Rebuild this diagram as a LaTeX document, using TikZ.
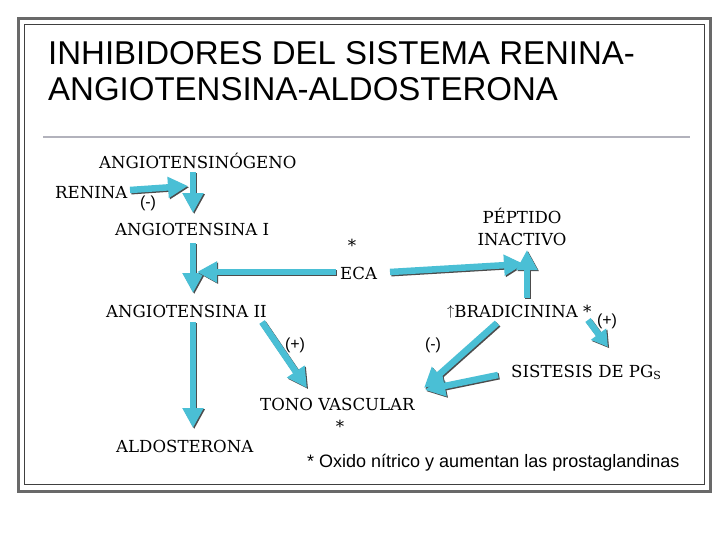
\documentclass[tikz,border=0pt]{standalone}
\usepackage{fontspec}
\setmainfont{DejaVu Serif}
\setsansfont{Liberation Sans}
\usetikzlibrary{arrows.meta,calc}
\definecolor{arrowc}{RGB}{74,191,213}
\definecolor{framec}{RGB}{105,105,105}
\definecolor{rulec}{RGB}{178,178,188}
\begin{document}
\begin{tikzpicture}[x=1pt,y=-1pt,
  lbl/.style={inner sep=0pt, anchor=base west, font=\fontsize{16.6}{19}\selectfont},
  lblc/.style={inner sep=0pt, anchor=base, font=\fontsize{16.6}{19}\selectfont},
  sml/.style={inner sep=0pt, font=\sffamily\fontsize{16}{18}\selectfont},
  ttl/.style={inner sep=0pt, anchor=base west, font=\sffamily\fontsize{33}{36}\selectfont},
  fat/.style={line width=6.5pt, arrowc, -{Triangle[length=20pt,width=20pt]}},
  fatsh/.style={line width=6.5pt, black!70, -{Triangle[length=20pt,width=20pt]},
    transform canvas={shift={(1.2pt,-1.2pt)}}}]
\useasboundingbox (0,0) rectangle (728,546);
\fill[white] (0,0) rectangle (728,546);
% frame
\draw[framec, line width=3pt] (18,18) rectangle (710,491);
\draw[black!75, line width=0.9pt] (24,24) rectangle (704,484);
% title
\node[ttl] (t1) at (48,64) {INHIBIDORES DEL SISTEMA RENINA-};
\node[ttl] (t2) at (48,100) {ANGIOTENSINA-ALDOSTERONA};
\draw[rulec, line width=2pt] (43,137) -- (690,137);
% labels
\node[lbl] (ang0) at (99,168) {ANGIOTENSINÓGENO};
\node[lbl] (ren) at (55,198) {RENINA};
\node[lbl] (ang1) at (115,235) {ANGIOTENSINA I};
\node[lbl] (ang2) at (106,317) {ANGIOTENSINA II};
\node[lbl] (aldo) at (116,452) {ALDOSTERONA};
\node[lbl] (eca) at (340,279) {ECA};
\node[lblc] (star1) at (352,251) {*};
\node[lblc] (pep) at (522,223) {PÉPTIDO};
\node[lblc] (inac) at (522,245) {INACTIVO};
\node[lbl] (brad) at (447,317) {\raisebox{2pt}{\fontsize{15}{15}\selectfont$\uparrow$}BRADICININA *};
\node[lbl] (sis) at (511,377) {SISTESIS DE PG\raisebox{-2pt}{\fontsize{11}{11}\selectfont S}};
\node[lbl] (tono) at (260,410) {TONO VASCULAR};
\node[lblc] (star2) at (340,432) {*};
\node[sml] (m1) at (148,203) {(-)};
\node[sml] (p1) at (295,345) {(+)};
\node[sml] (m2) at (433,345) {(-)};
\node[sml] (p2) at (607,321) {(+)};
\node[inner sep=0pt, anchor=base west, font=\sffamily\fontsize{18}{20}\selectfont] (foot) at (307,467) {* Oxido nítrico y aumentan las prostaglandinas};
% arrows
\newcommand\fatarrow[3][]{%
  \draw[fatsh,#1] #2 -- #3;
  \draw[fat,#1] #2 -- #3;}
\fatarrow{($(ren.base west)+(75,-8)$)}{($(ang0.base west)+(89,18)$)}
\fatarrow{($(ang0.base west)+(94,4)$)}{($(ang1.base west)+(78,-22)$)}
\fatarrow{($(ang1.base west)+(78,8)$)}{($(ang2.base west)+(87,-24)$)}
\fatarrow{($(eca.base west)+(-4,-7)$)}{($(ang1.base west)+(82,37)$)}
\fatarrow{($(eca.base west)+(50,-7)$)}{($(inac.base)+(2,19)$)}
\fatarrow{($(brad.base west)+(80,-19)$)}{($(inac.base)+(5,5)$)}
\fatarrow{($(ang2.base west)+(87,5)$)}{($(aldo.base west)+(77,-24)$)}
\fatarrow{($(ang2.base west)+(156,5)$)}{($(tono.base west)+(47,-22)$)}
\fatarrow{($(brad.base west)+(50,6)$)}{($(tono.base west)+(164,-22)$)}
\fatarrow{($(sis.base west)+(-13,-2)$)}{($(tono.base west)+(165,-20)$)}
\fatarrow[-{Triangle[length=16pt,width=18pt]}]{($(brad.base west)+(141,3)$)}{($(sis.base west)+(97,-30)$)}
\end{tikzpicture}
\end{document}
